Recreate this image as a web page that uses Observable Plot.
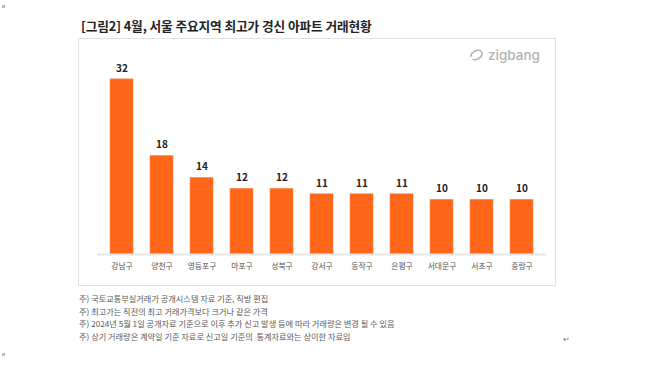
<!DOCTYPE html>
<html><head><meta charset="utf-8">
<script src="https://cdn.jsdelivr.net/npm/d3@7"></script>
<script src="https://cdn.jsdelivr.net/npm/@observablehq/plot@0.6"></script>
<style>
html,body{margin:0;padding:0;background:#fff;}
body{width:658px;height:373px;position:relative;overflow:hidden;font-family:"Noto Sans CJK KR","Noto Sans",sans-serif;}
#title{position:absolute;left:81px;top:16px;font-size:12.7px;font-weight:700;color:#222;white-space:nowrap;letter-spacing:-0.1px;}
#box{position:absolute;left:78px;top:38px;width:476px;height:246px;border:1px solid #e2e2e2;}
#chart{position:absolute;left:0;top:0;}
#logo{position:absolute;left:469px;top:47px;font-family:"Inter","DejaVu Sans",sans-serif;font-size:13.5px;font-weight:500;color:#b3b3b3;white-space:nowrap;display:flex;align-items:center;gap:4px;}
#notes{position:absolute;left:79px;top:292px;font-size:8.2px;color:#5a5a5a;line-height:12.6px;white-space:nowrap;}
#ret{position:absolute;left:563px;top:333px;font-size:8px;color:#777;}
.corner{position:absolute;left:2px;width:3px;height:3px;background:#bbb;}
</style></head>
<body>
<div class="corner" style="top:5px"></div>
<div class="corner" style="top:353px"></div>
<div id="title">[그림2] 4월, 서울 주요지역 최고가 경신 아파트 거래현황</div>
<div id="box"><div id="chart"></div></div>
<div id="logo"><svg width="15" height="12" viewBox="0 0 15 12"><ellipse cx="7.5" cy="6" rx="6" ry="4.2" transform="rotate(-30 7.5 6)" fill="none" stroke="#b3b3b3" stroke-width="1.6" stroke-dasharray="14 3"/></svg><span>zigbang</span></div>
<div id="notes">
<div>주) 국토교통부실거래가 공개시스템 자료 기준, 직방 편집</div>
<div>주) 최고가는 직전의 최고 거래가격보다 크거나 같은 가격</div>
<div>주) 2024년 5월 1일 공개자료 기준으로 이후 추가 신고 발생 등에 따라 거래량은 변경 될 수 있음</div>
<div>주) 상기 거래량은 계약일 기준 자료로 신고일 기준의&nbsp; 통계자료와는 상이한 자료임</div>
</div>
<div id="ret">↵</div>
<script>
const districts = ["강남구","양천구","영등포구","마포구","성북구","강서구","동작구","은평구","서대문구","서초구","중랑구"];
const counts = [32,18,14,12,12,11,11,11,10,10,10];
const data = districts.map((d,i)=>({district:d, count:counts[i]}));

const chart = Plot.plot({
  width: 476,
  height: 246,
  marginLeft: 18,
  marginRight: 9,
  marginTop: 18,
  marginBottom: 31,
  style: {fontFamily: '"Noto Sans CJK KR","Noto Sans",sans-serif', background: "transparent"},
  x: {domain: districts, paddingInner: 0.42, paddingOuter: 0.226, axis: null},
  y: {domain: [0, 36], axis: null},
  marks: [
    Plot.barY(data, {x: "district", y: "count", fill: "#ff661a", stroke: "#ff8a4d", strokeWidth: 0.6}),
    Plot.ruleY([0], {stroke: "#e6e6e6", strokeWidth: 2}),
    Plot.text(data, {x: "district", y: "count", text: d => String(d.count), dy: -11, fontSize: 10, fontWeight: 700, fill: "#222"}),
    Plot.axisX({domain: districts, tickSize: 0, tickPadding: 9, fontSize: 7.8, color: "#555", label: null})
  ]
});
document.getElementById("chart").appendChild(chart);
</script>
</body></html>
